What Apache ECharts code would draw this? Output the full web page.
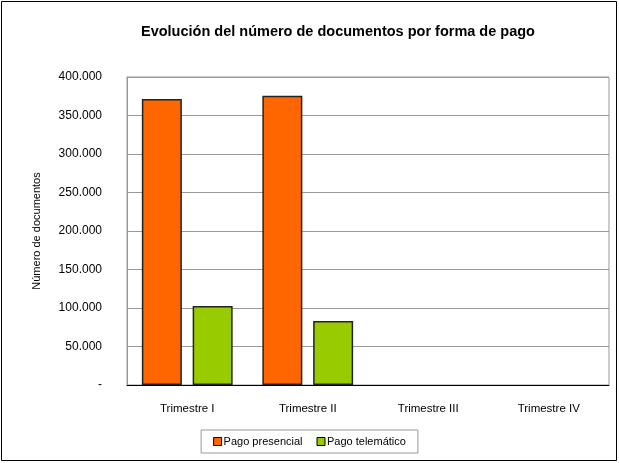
<!DOCTYPE html>
<html>
<head>
<meta charset="utf-8">
<script src="https://cdn.jsdelivr.net/npm/echarts@6/dist/echarts.min.js"></script>
<style>
  html, body { margin: 0; padding: 0; background: #fff; }
  #chart { width: 619px; height: 463px; }
</style>
</head>
<body>
<div id="chart"></div>
<script>
  // datos
  var trimestres = ['Trimestre I', 'Trimestre II', 'Trimestre III', 'Trimestre IV'];
  var pagoPresencial = [371500, 375700, null, null];
  var pagoTelematico = [102600, 83100, null, null];

  var fuente = '"Liberation Sans", "DejaVu Sans", sans-serif';

  // formato 400.000, 0 -> "-"
  function formatoMiles(v) {
    if (v === 0) return '-';
    return String(v).replace(/\B(?=(\d{3})+(?!\d))/g, '.');
  }

  var myChart = echarts.init(document.getElementById('chart'));
  var option = {
    backgroundColor: '#fff',
    animation: false,
    textStyle: { fontFamily: fuente },
    title: {
      text: 'Evolución del número de documentos por forma de pago',
      left: 136,
      top: 19,
      textStyle: { fontSize: 14.5, fontWeight: 'bold', color: '#000', fontFamily: fuente }
    },
    // borde exterior del gráfico
    graphic: [{
      type: 'rect',
      shape: { x: 1.5, y: 1.5, width: 615, height: 459 },
      style: { fill: 'none', stroke: '#000', lineWidth: 1 },
      silent: true
    }],
    grid: {
      left: 127, right: 10, top: 77, bottom: 78,
      show: true, borderColor: '#999', borderWidth: 1
    },
    legend: {
      bottom: 10,
      left: 'center',
      icon: 'rect',
      itemWidth: 8,
      itemHeight: 8,
      itemGap: 14,
      padding: [6, 12, 6, 12],
      borderColor: '#999',
      borderWidth: 1,
      textStyle: { fontSize: 11, color: '#000', padding: [0, 0, 0, -3] },
      data: [
        { name: 'Pago presencial', itemStyle: { borderColor: '#000', borderWidth: 1 } },
        { name: 'Pago telemático', itemStyle: { borderColor: '#000', borderWidth: 1 } }
      ]
    },
    xAxis: {
      type: 'category',
      data: trimestres,
      axisLine: { lineStyle: { color: '#000', width: 1 } },
      axisTick: { show: false },
      axisLabel: { color: '#000', fontSize: 11.5, margin: 18 }
    },
    yAxis: {
      type: 'value',
      min: 0,
      max: 400000,
      interval: 50000,
      name: 'Número de documentos',
      nameLocation: 'middle',
      nameRotate: 90,
      nameGap: 85,
      nameTextStyle: { fontSize: 11, color: '#000' },
      axisLine: { show: true, lineStyle: { color: '#999' } },
      axisTick: { show: false },
      axisLabel: { color: '#000', fontSize: 12, margin: 25, formatter: formatoMiles },
      splitLine: { lineStyle: { color: '#999', width: 1 } }
    },
    series: [
      {
        name: 'Pago presencial',
        type: 'bar',
        data: pagoPresencial,
        barWidth: 40,
        barGap: '27%',
        itemStyle: { color: '#ff6600', borderColor: '#222', borderWidth: 1.5 }
      },
      {
        name: 'Pago telemático',
        type: 'bar',
        data: pagoTelematico,
        barWidth: 40,
        itemStyle: { color: '#99cc00', borderColor: '#222', borderWidth: 1.5 }
      }
    ]
  };
  myChart.setOption(option, true);
</script>
</body>
</html>
